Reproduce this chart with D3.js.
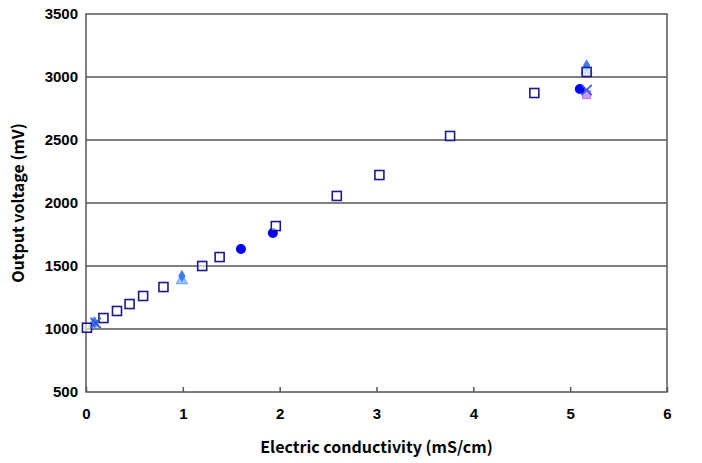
<!DOCTYPE html>
<html>
<head>
<meta charset="utf-8">
<script src="https://cdn.jsdelivr.net/npm/d3@7"></script>
<style>
  body { margin: 0; background: #fff; }
  .tick text { font-family: "Liberation Sans", Arial, sans-serif; font-weight: bold; font-size: 15px; fill: #000; }
  .title { font-family: "Noto Sans CJK JP", sans-serif; font-weight: bold; font-size: 16px; }
</style>
</head>
<body>
<div id="chart"></div>
<script>
// series
var squareX = [0.01, 0.18, 0.32, 0.45, 0.59, 0.80, 1.20, 1.38, 1.96, 2.59, 3.03, 3.76, 4.63, 5.17];
var squareY = [1010, 1087, 1143, 1198, 1262, 1333, 1500, 1571, 1817, 2056, 2222, 2532, 2873, 3040];
var circleX = [1.60, 1.93, 5.10];
var circleY = [1635, 1762, 2905];
var diamondX = [0.09, 0.99, 5.17];
var diamondY = [1052, 1420, 3092];
var triX = [0.08, 0.99, 5.17];
var triY = [1042, 1385, 3052];
var crossX = [0.10, 5.17];
var crossY = [1048, 2897];
var pinkX = [5.17];
var pinkY = [2860];

var xTicks = [0, 1, 2, 3, 4, 5, 6];
var yTicks = [500, 1000, 1500, 2000, 2500, 3000, 3500];

var width = 702, height = 463;
var m = { left: 86, right: 35, top: 14, bottom: 71 };

var svg = d3.select("#chart").append("svg")
  .attr("width", width)
  .attr("height", height);

var x = d3.scaleLinear().domain([0, 6]).range([m.left, width - m.right]);
var y = d3.scaleLinear().domain([500, 3500]).range([height - m.bottom, m.top]);

// gridlines
svg.append("g")
  .selectAll("line")
  .data(yTicks.slice(1, -1))
  .enter().append("line")
  .attr("x1", x(0)).attr("x2", x(6))
  .attr("y1", function(d) { return y(d); })
  .attr("y2", function(d) { return y(d); })
  .attr("stroke", "#555")
  .attr("stroke-width", 1.5);

// frame
svg.append("rect")
  .attr("x", x(0)).attr("y", y(3500))
  .attr("width", x(6) - x(0)).attr("height", y(500) - y(3500))
  .attr("fill", "none")
  .attr("stroke", "#555")
  .attr("stroke-width", 1.5);

var xAxis = svg.append("g")
  .attr("transform", "translate(0," + y(500) + ")")
  .call(d3.axisBottom(x).tickValues(xTicks).tickFormat(d3.format("d"))
    .tickSizeInner(-5).tickSizeOuter(0).tickPadding(16));
xAxis.select(".domain").remove();
xAxis.selectAll(".tick line").attr("stroke", "#555").attr("stroke-width", 1.5);

var yAxis = svg.append("g")
  .attr("transform", "translate(" + x(0) + ",0)")
  .call(d3.axisLeft(y).tickValues(yTicks).tickFormat(d3.format("d")).tickSize(0).tickPadding(8));
yAxis.select(".domain").remove();
yAxis.selectAll(".tick text").attr("dy", "0.3em");

svg.append("text")
  .attr("class", "title")
  .attr("x", x(3)).attr("y", 453)
  .attr("text-anchor", "middle")
  .text("Electric conductivity (mS/cm)");

svg.append("text")
  .attr("class", "title")
  .attr("transform", "translate(24," + y(2000) + ") rotate(-90)")
  .attr("text-anchor", "middle")
  .text("Output voltage (mV)");

var pts = svg.append("g");

var pair = function(xs, ys) { return xs.map(function(v, i) { return [v, ys[i]]; }); };

// pink
pts.selectAll(".pink").data(pair(pinkX, pinkY)).enter().append("rect")
  .attr("x", function(d) { return x(d[0]) - 4; })
  .attr("y", function(d) { return y(d[1]) - 4; })
  .attr("width", 8).attr("height", 8)
  .attr("fill", "#cc99ff").attr("stroke", "#cc66ff");

// triangles
pts.selectAll(".tri").data(pair(triX, triY)).enter().append("path")
  .attr("transform", function(d) { return "translate(" + x(d[0]) + "," + y(d[1]) + ")"; })
  .attr("d", d3.symbol().type(d3.symbolTriangle).size(55))
  .attr("fill", "#99ccff").attr("stroke", "#6699ff");

// diamonds
pts.selectAll(".dia").data(pair(diamondX, diamondY)).enter().append("path")
  .attr("transform", function(d) { return "translate(" + x(d[0]) + "," + y(d[1]) + ")"; })
  .attr("d", d3.symbol().type(d3.symbolDiamond).size(45))
  .attr("fill", "#3d7cff");

// circles
pts.selectAll(".circ").data(pair(circleX, circleY)).enter().append("circle")
  .attr("cx", function(d) { return x(d[0]); })
  .attr("cy", function(d) { return y(d[1]); })
  .attr("r", 5)
  .attr("fill", "#0000ff");

// squares
pts.selectAll(".sq").data(pair(squareX, squareY)).enter().append("rect")
  .attr("x", function(d) { return x(d[0]) - 4.5; })
  .attr("y", function(d) { return y(d[1]) - 4.5; })
  .attr("width", 9).attr("height", 9)
  .attr("fill", "#fff").attr("fill-opacity", 0.6)
  .attr("stroke", "#1a1a8c").attr("stroke-width", 1.6);

// crosses
pts.selectAll(".cross").data(pair(crossX, crossY)).enter().append("path")
  .attr("transform", function(d) { return "translate(" + x(d[0]) + "," + y(d[1]) + ")"; })
  .attr("d", d3.symbol().type(d3.symbolX).size(70))
  .attr("fill", "none").attr("stroke", "#3355cc").attr("stroke-width", 1.6);
</script>
</body>
</html>
